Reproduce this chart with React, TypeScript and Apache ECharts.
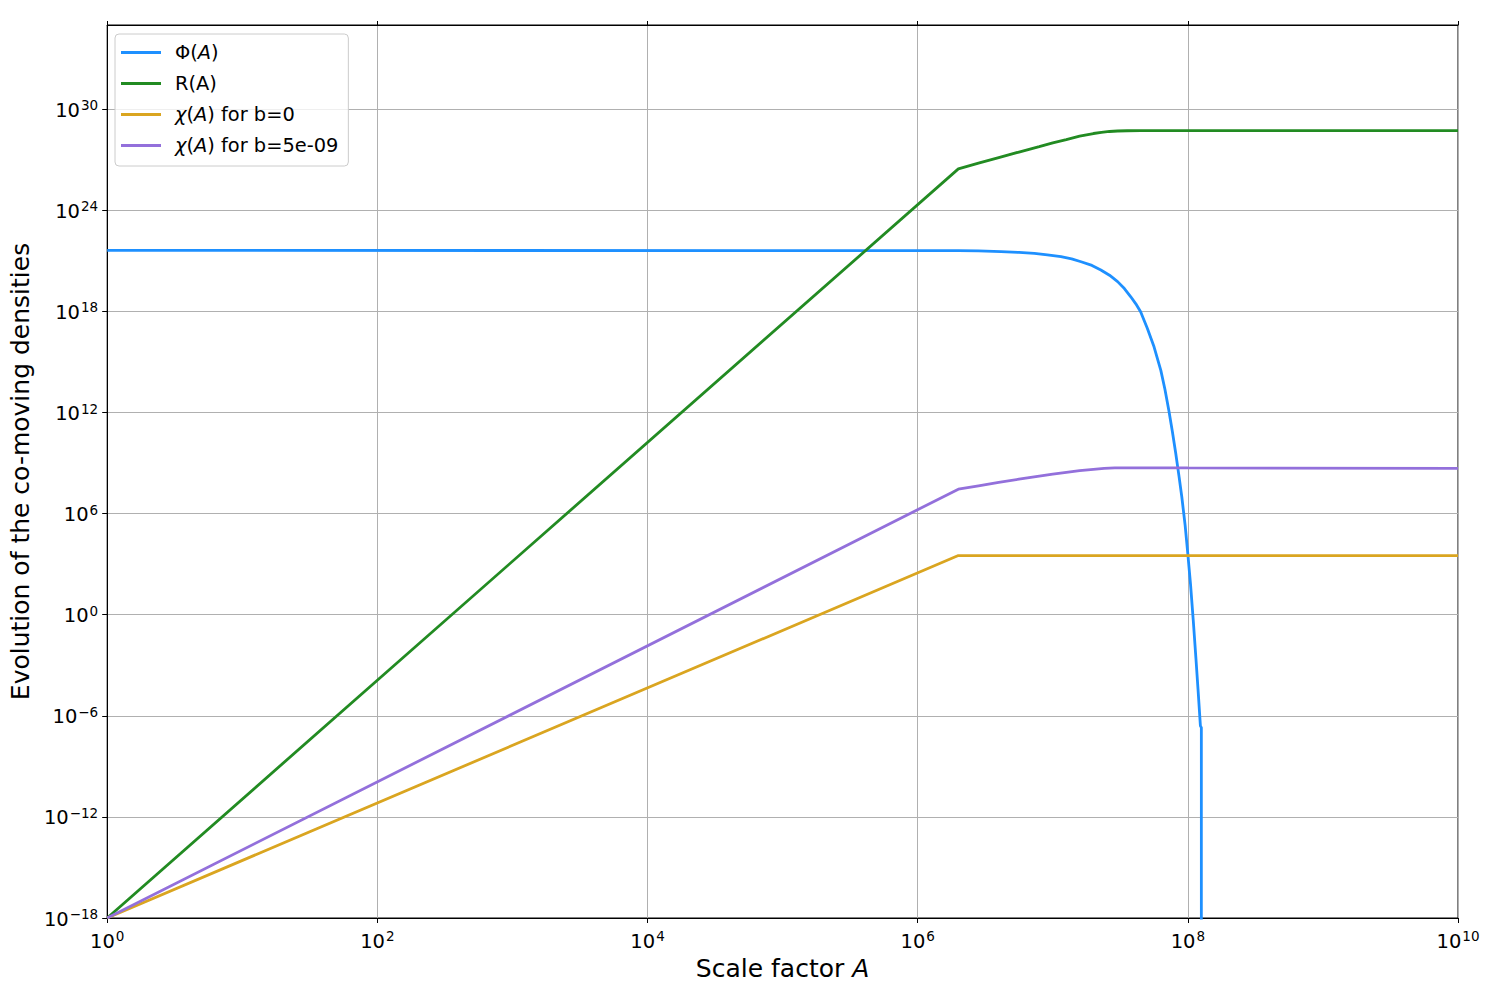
import React, { useEffect, useRef } from 'react';
import * as echarts from 'echarts';

// Φ(A)
const phiA = [1, 2.0e6, 2.82e6, 4.14e6, 5.62e6, 7.31e6, 9.12e6, 1.15e7, 1.38e7, 1.62e7, 1.95e7, 2.27e7, 2.63e7, 3.02e7, 3.39e7, 3.78e7, 4.12e7, 4.47e7, 5.01e7, 5.62e7, 6.31e7, 6.76e7, 7.24e7, 7.67e7, 8.13e7, 8.61e7, 9.02e7, 9.55e7, 1.0e8, 1.047e8, 1.096e8, 1.148e8, 1.189e8, 1.239e8, 1.259e8, 1.259e8];
const phiV = [4.17e21, 4.07e21, 3.89e21, 3.55e21, 3.16e21, 2.82e21, 2.29e21, 1.78e21, 1.32e21, 8.9e20, 5.37e20, 2.88e20, 1.41e20, 5.89e19, 2.29e19, 7.41e18, 2.82e18, 9.55e17, 1.0e17, 7.94e15, 3.16e14, 2.51e13, 1.26e12, 7.94e10, 3.98e9, 1.58e8, 1.0e7, 2.0e5, 3.98e3, 63.1, 0.501, 2.51e-3, 3.98e-5, 2.51e-7, 2.0e-7, 1e-40];

// R(A)
const rA = [1, 2.0e6, 2.82e6, 3.98e6, 5.62e6, 7.94e6, 1.0e7, 1.26e7, 1.58e7, 2.0e7, 2.29e7, 2.63e7, 3.02e7, 3.55e7, 4.47e7, 1e10];
const rV = [1e-18, 2.88e26, 6.31e26, 1.35e27, 2.88e27, 6.03e27, 1.0e28, 1.58e28, 2.51e28, 3.63e28, 4.27e28, 4.79e28, 5.13e28, 5.31e28, 5.37e28, 5.37e28];

// χ(A) for b=0
const chi0A = [1, 2.0e6, 1e10];
const chi0V = [1e-18, 3.24e3, 3.24e3];

// χ(A) for b=5e-09
const chi5A = [1, 2.0e6, 2.82e6, 3.98e6, 5.62e6, 7.94e6, 1.0e7, 1.26e7, 1.58e7, 2.0e7, 2.40e7, 2.88e7, 3.55e7, 5.01e7, 1.0e8, 1e10];
const chi5V = [1e-18, 2.82e7, 4.47e7, 7.08e7, 1.10e8, 1.66e8, 2.19e8, 2.82e8, 3.55e8, 4.27e8, 4.79e8, 5.13e8, 5.25e8, 5.25e8, 5.13e8, 4.9e8];

const seriesNames = ['Φ(A)', 'R(A)', 'χ(A) for b=0', 'χ(A) for b=5e-09'];
const seriesColors = ['#1E90FF', '#228B22', '#DAA520', '#9370DB'];

const FONT = 'DejaVu Sans';

const pairs = (xs: number[], ys: number[]) => xs.map((x, i) => [x, ys[i]]);

const powLabel = (v: number) => {
  const e = Math.round(Math.log10(v));
  const s = e < 0 ? '\u2212' + String(-e) : String(e);
  return '{b|10}{s|' + s + '}';
};

const tickRich = {
  b: { fontSize: 19.5, fontFamily: FONT, color: '#000', lineHeight: 22, verticalAlign: 'bottom' },
  s: { fontSize: 13.5, fontFamily: FONT, color: '#000', lineHeight: 10, verticalAlign: 'top', padding: [0, 0, 0, 1] },
};

const legendFormatter = (name: string) => {
  if (name === 'R(A)') return '{sp| }{n|R(A)}';
  const first = name[0];
  const rest = name.slice(4);
  return '{sp| }{' + (first === 'χ' ? 'i' : 'n') + '|' + first + '}{n|(}{i|A}{n|)' + rest + '}';
};

export default function App() {
  const ref = useRef<HTMLDivElement>(null);
  useEffect(() => {
    if (!ref.current) return;
    const chart = echarts.init(ref.current, undefined, { renderer: 'svg' });
    const data = [pairs(phiA, phiV), pairs(rA, rV), pairs(chi0A, chi0V), pairs(chi5A, chi5V)];
    chart.setOption({
      animation: false,
      backgroundColor: '#fff',
      grid: { left: 104, right: 32, top: 25, bottom: 71, show: true, borderColor: '#000', borderWidth: 1, backgroundColor: 'transparent' },
      legend: {
        left: 115,
        top: 34,
        orient: 'vertical',
        data: seriesNames.map((n) => ({ name: n, icon: 'rect' })),
        itemWidth: 40,
        itemHeight: 3,
        itemGap: 12,
        padding: [9, 10, 11, 6],
        backgroundColor: 'rgba(255,255,255,0.8)',
        borderColor: '#cccccc',
        borderWidth: 1,
        borderRadius: 4,
        formatter: legendFormatter,
        textStyle: {
          fontFamily: FONT,
          fontSize: 19.4,
          color: '#000',
          rich: {
            n: { fontFamily: FONT, fontSize: 19.4, color: '#000', lineHeight: 20 },
            i: { fontFamily: FONT, fontSize: 19.4, color: '#000', fontStyle: 'italic', lineHeight: 20 },
            sp: { width: 9, lineHeight: 20 },
          },
        },
      },
      xAxis: [
        {
          type: 'log',
          logBase: 10,
          min: 1,
          max: 1e10,
          interval: 2,
          position: 'bottom',
          name: '{n|Scale factor }{i|A}',
          nameLocation: 'middle',
          nameGap: 34,
          nameTextStyle: {
            fontFamily: FONT,
            fontSize: 25,
            color: '#000',
            rich: {
              n: { fontFamily: FONT, fontSize: 25, color: '#000' },
              i: { fontFamily: FONT, fontSize: 25, color: '#000', fontStyle: 'italic' },
            },
          },
          axisLine: { show: true, lineStyle: { color: '#000', width: 1 } },
          axisTick: { show: true, length: 5, lineStyle: { color: '#000', width: 1 } },
          axisLabel: { show: true, interval: 0, margin: 11, formatter: powLabel, rich: tickRich, showMinLabel: true, showMaxLabel: true },
          splitLine: { show: true, lineStyle: { color: '#b0b0b0', width: 1 } },
          minorTick: { show: false },
        },
        {
          type: 'log',
          logBase: 10,
          min: 1,
          max: 1e10,
          interval: 2,
          position: 'top',
          axisLine: { show: true, lineStyle: { color: '#000', width: 1 } },
          axisTick: { show: true, length: 4, lineStyle: { color: '#000', width: 1 } },
          axisLabel: { show: false },
          splitLine: { show: false },
        },
      ],
      yAxis: {
        type: 'log',
        logBase: 10,
        min: 1e-18,
        max: 1e35,
        interval: 6,
        name: 'Evolution of the co-moving densities',
        nameLocation: 'middle',
        nameRotate: 90,
        nameGap: 71,
        nameTextStyle: { fontFamily: FONT, fontSize: 25, color: '#000' },
        axisLine: { show: true, lineStyle: { color: '#000', width: 1 } },
        axisTick: { show: true, length: 5, lineStyle: { color: '#000', width: 1 } },
        axisLabel: { show: true, margin: 9, formatter: powLabel, rich: tickRich, showMinLabel: true, showMaxLabel: false },
        splitLine: { show: true, lineStyle: { color: '#b0b0b0', width: 1 } },
        minorTick: { show: false },
      },
      series: data.map((d, i) => ({
        name: seriesNames[i],
        type: 'line',
        xAxisIndex: 0,
        data: d,
        showSymbol: false,
        symbol: 'none',
        clip: true,
        color: seriesColors[i],
        itemStyle: { color: seriesColors[i] },
        lineStyle: { color: seriesColors[i], width: 2.8 },
        emphasis: { disabled: true },
      })),
    });
    return () => chart.dispose();
  }, []);
  return <div ref={ref} style={{ position: 'fixed', left: 0, top: 0, width: 1490, height: 989 }} />;
}
